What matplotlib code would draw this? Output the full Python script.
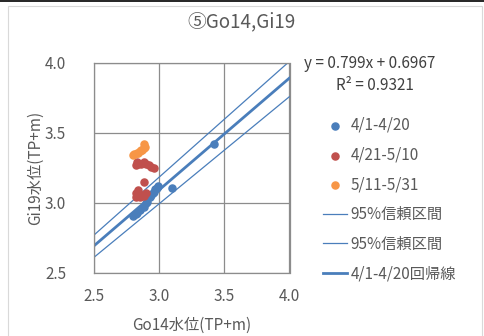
import matplotlib
matplotlib.use("Agg")
import matplotlib.pyplot as plt
from matplotlib.lines import Line2D
from matplotlib.patches import Rectangle

plt.rcParams["font.family"] = ["Noto Sans CJK JP", "DejaVu Sans"]

# 4/1-4/20
blue_x = [2.80, 2.82, 2.83, 2.85, 2.88, 2.90, 2.91, 2.93, 2.94, 2.95, 2.96, 2.97, 2.98, 2.99, 3.10, 3.42]
blue_y = [2.91, 2.92, 2.93, 2.95, 2.97, 3.00, 3.01, 3.04, 3.06, 3.07, 3.08, 3.10, 3.11, 3.12, 3.11, 3.42]
# 4/21-5/10
red_x = [2.82, 2.83, 2.84, 2.86, 2.88, 2.90, 2.92, 2.94, 2.96, 2.88,
         2.82, 2.83, 2.84, 2.86, 2.88, 2.90, 2.82, 2.85]
red_y = [3.27, 3.29, 3.28, 3.28, 3.29, 3.28, 3.27, 3.26, 3.25, 3.15,
         3.07, 3.05, 3.09, 3.06, 3.05, 3.07, 3.04, 3.04]
# 5/11-5/31
orange_x = [2.80, 2.81, 2.83, 2.84, 2.85, 2.86, 2.87, 2.88, 2.89, 2.88]
orange_y = [3.34, 3.35, 3.36, 3.36, 3.37, 3.38, 3.38, 3.39, 3.40, 3.42]

slope, intercept = 0.799, 0.6967
r2 = 0.9321
line_x = [2.5, 4.0]
ci_upper = [2.771, 4.012]
ci_lower = [2.612, 3.760]

fig = plt.figure(figsize=(4.84, 3.36), dpi=100)
ax = fig.add_axes([94 / 484, 1 - 273 / 336, 195.5 / 484, 210 / 336])

ax.scatter(blue_x, blue_y, s=26, color="#4a7ebb", zorder=3, label="4/1-4/20")
ax.scatter(red_x, red_y, s=26, color="#c0504d", zorder=3, label="4/21-5/10")
ax.scatter(orange_x, orange_y, s=26, color="#f79646", zorder=3, label="5/11-5/31")

ax.plot(line_x, ci_upper, color="#4a7ebb", lw=0.9, label="95%信頼区間")
ax.plot(line_x, ci_lower, color="#4a7ebb", lw=0.9, label="95%信頼区間")
reg_y = [slope * x + intercept for x in line_x]
ax.plot(line_x, reg_y, color="#4a7ebb", lw=2.0, label="4/1-4/20回帰線")

ax.set_xlim(2.5, 4.0)
ax.set_ylim(2.5, 4.0)
ax.set_xticks([2.5, 3.0, 3.5, 4.0])
ax.set_yticks([2.5, 3.0, 3.5, 4.0])
ax.xaxis.set_major_formatter(lambda v, p: f"{v:.1f}")
ax.yaxis.set_major_formatter(lambda v, p: f"{v:.1f}")
ax.tick_params(axis="x", length=0, labelsize=11, colors="#595959", pad=11)
ax.tick_params(axis="y", length=0, labelsize=11, colors="#595959", pad=20)
ax.grid(True, color="#8c8c8c", lw=0.9)
ax.set_axisbelow(True)
for s in ax.spines.values():
    s.set_color("#8c8c8c")
    s.set_linewidth(0.9)

ax.set_xlabel("Go14水位(TP+m)", fontsize=11, color="#595959", labelpad=8)
ax.set_ylabel("Gi19水位(TP+m)", fontsize=11, color="#595959", labelpad=1)
fig.text(242 / 484, 1 - 22 / 336, "⑤Go14,Gi19", ha="center", va="center",
         fontsize=13.5, color="#595959")
fig.text(370 / 484, 1 - 63 / 336, f"y = {slope}x + {intercept}", ha="center",
         va="center", fontsize=11, color="#404040")
fig.text(375 / 484, 1 - 85 / 336, f"R² = {r2}", ha="center", va="center",
         fontsize=11, color="#404040")

handles, labels = ax.get_legend_handles_labels()
leg = fig.legend(handles, labels, loc="upper left", bbox_to_anchor=(323 / 484, 1 - 117 / 336),
                 frameon=False, fontsize=11, labelcolor="#595959", handlelength=1.6,
                 handletextpad=0.2, labelspacing=0.83, borderpad=0, borderaxespad=0)

# chart frame
fig.add_artist(Rectangle((8 / 484, -0.01), 474 / 484, 1 - 6 / 336 + 0.01,
                         transform=fig.transFigure, fill=False, ec="#d9d9d9", lw=0.8))
fig.add_artist(Line2D([0, 1], [1 - 0.5 / 336] * 2, transform=fig.transFigure,
                      color="black", lw=1.2))

fig.savefig("out.png", dpi=100)
